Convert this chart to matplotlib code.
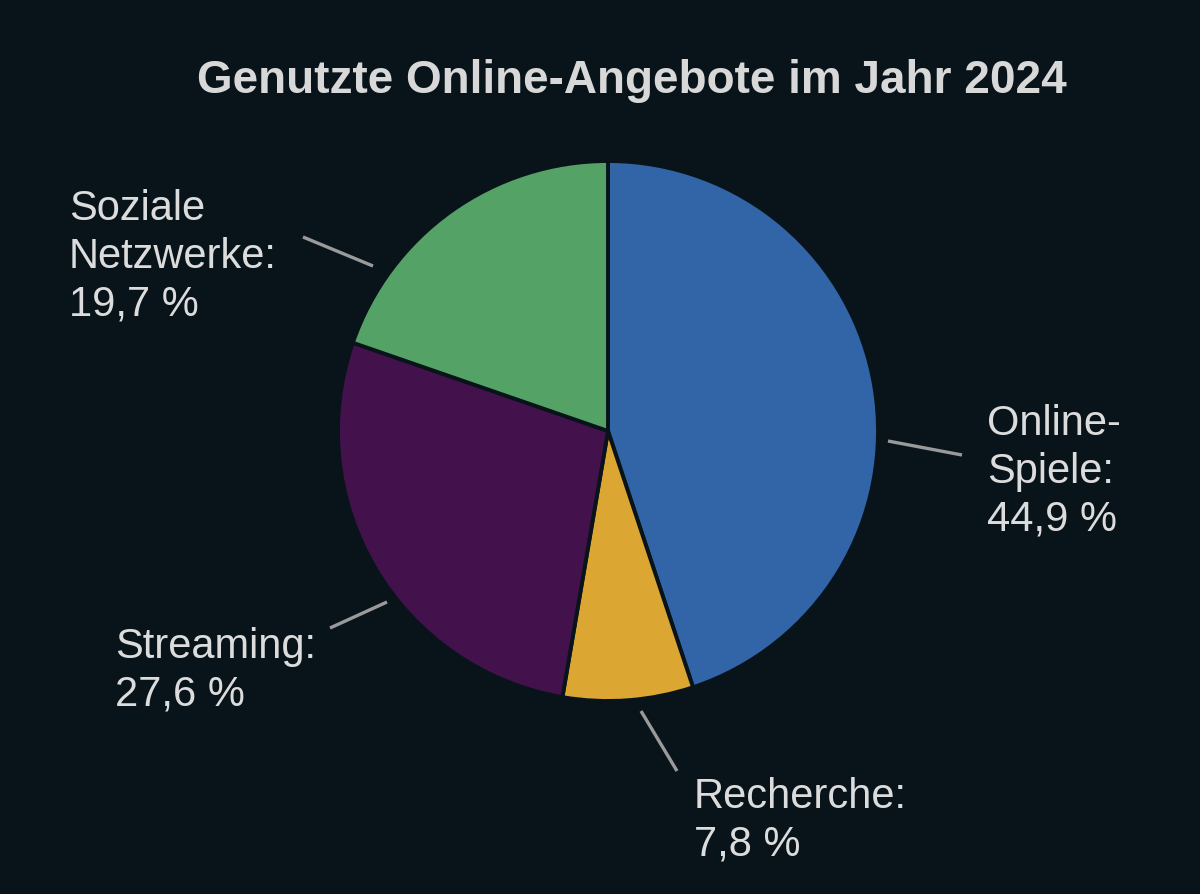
import matplotlib.pyplot as plt

# data
categories = ['Online-Spiele', 'Recherche', 'Streaming', 'Soziale Netzwerke']
shares = [44.9, 7.8, 27.6, 19.7]
label_texts = ['Online-\nSpiele:\n44,9 %', 'Recherche:\n7,8 %',
               'Streaming:\n27,6 %', 'Soziale\nNetzwerke:\n19,7 %']
colors = ['#3264a8', '#dca632', '#43124c', '#55a266']

bg = '#08141a'
H = 895

plt.rcParams['font.family'] = ['Liberation Sans', 'DejaVu Sans']

fig = plt.figure(figsize=(12, 8.95), dpi=100, facecolor=bg)
ax = fig.add_axes([0, 0, 1, 1])
ax.set_facecolor(bg)

# pie in pixel-like coordinates
ax.pie(shares, colors=colors, startangle=90, counterclock=False,
       center=(608, H - 432), radius=270, frame=True,
       wedgeprops=dict(edgecolor=bg, linewidth=2.8))
ax.set_xlim(0, 1200)
ax.set_ylim(0, H)
ax.axis('off')

# label positions (left, top) and leader lines
label_pos = [(987, 404), (694, 777), (115, 627), (69, 189)]
leaders = [((888, 442), (962, 456)),
           ((641, 712), (677, 772)),
           ((387, 603), (330, 629)),
           ((303, 238), (373, 267))]

for txt, (lx, ly), ((x0, y0), (x1, y1)) in zip(label_texts, label_pos, leaders):
    ax.text(lx, H - ly, txt, ha='left', va='top', fontsize=30,
            color='#dcdcdc', linespacing=1.25)
    ax.plot([x0, x1], [H - y0, H - y1], color='#9a9a9a', lw=2.4,
            solid_capstyle='butt')

ax.text(632, H - 93, 'Genutzte Online-Angebote im Jahr 2024', ha='center',
        va='baseline', fontsize=33, fontweight='bold', color='#d8d8d8')

fig.savefig('out.png', dpi=100, facecolor=bg)
